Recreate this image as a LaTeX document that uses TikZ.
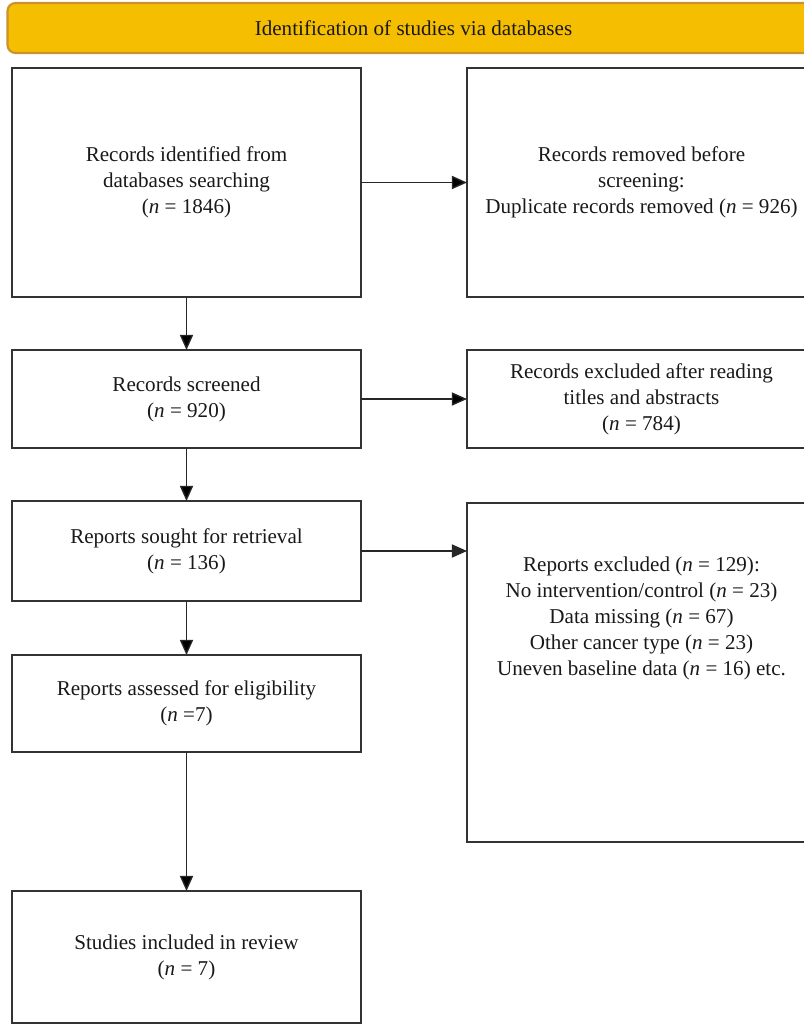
\documentclass[tikz,border=0pt]{standalone}
\usepackage{fontspec}
\setmainfont{Liberation Serif}
\usetikzlibrary{arrows.meta,positioning}
\definecolor{headfill}{HTML}{F6BE00}
\definecolor{headline}{HTML}{C8922C}
\definecolor{boxline}{HTML}{333333}

\begin{document}
\begin{tikzpicture}[>={Triangle[length=3.8mm,width=3.3mm]}]
\tikzstyle{box}=[rectangle,draw=boxline,line width=0.9pt,
inner sep=2pt,outer sep=0pt,align=center,text=black!90,
minimum width=8.725cm,font=\fontsize{15}{18.5}\selectfont]
\tikzstyle{head}=[rectangle,rounded corners=0.2cm,fill=headfill,
draw=headline,line width=1.5pt,outer sep=0pt,text=black!90,
minimum width=20.3cm,minimum height=1.25cm,font=\fontsize{15}{18.5}\selectfont]
\tikzstyle{line}=[draw=black!85,line width=1pt]
\useasboundingbox (0,0) rectangle (20.1,-25.6);

\node[head] at (10.3375,-0.7) (0) {Identification of studies via databases};
\node[box,minimum height=5.725cm] at (4.6625,-4.5625) (1) {Records identified from\\ databases searching\\ (\textit{n} = 1846)};
\node[box,minimum height=5.725cm,right=2.65cm of 1] (2) {Records removed before\\ screening:\\ Duplicate records removed (\textit{n} = 926)};
\node[box,minimum height=2.45cm,below=1.325cm of 1] (3) {Records screened\\ (\textit{n} = 920)};
\node[box,minimum height=2.45cm,right=2.65cm of 3] (4) {Records excluded after reading\\ titles and abstracts\\ (\textit{n} = 784)};
\node[box,minimum height=2.5cm,below=1.325cm of 3] (5) {Reports sought for retrieval\\ (\textit{n} = 136)};
\node[box,minimum height=8.475cm,anchor=north west] at ([xshift=2.65cm,yshift=-0.05cm]5.north east) (6)
{\parbox[c][8.3cm][t]{8.5cm}{\centering\vspace*{1.25cm}
Reports excluded (\textit{n} = 129):\\ No intervention/control (\textit{n} = 23)\\ Data missing (\textit{n} = 67)\\ Other cancer type (\textit{n} = 23)\\ Uneven baseline data (\textit{n} = 16) etc.}};
\node[box,minimum height=2.425cm,below=1.35cm of 5] (7) {Reports assessed for eligibility\\ (\textit{n} =7)};
\node[box,minimum height=3.3cm,below=3.475cm of 7] (8) {Studies included in review\\ (\textit{n} = 7)};

\path[->,line] (1) edge (2) ;
\path[->,line] (1) edge (3) ;
\path[->,line] (3) edge (4) ;
\path[->,line] (3) edge (5) ;
\draw[->,line] (5.east) -- (5.east -| 6.west) ;
\path[->,line] (5) edge (7) ;
\path[->,line] (7) edge (8) ;

\end{tikzpicture}
\end{document}
